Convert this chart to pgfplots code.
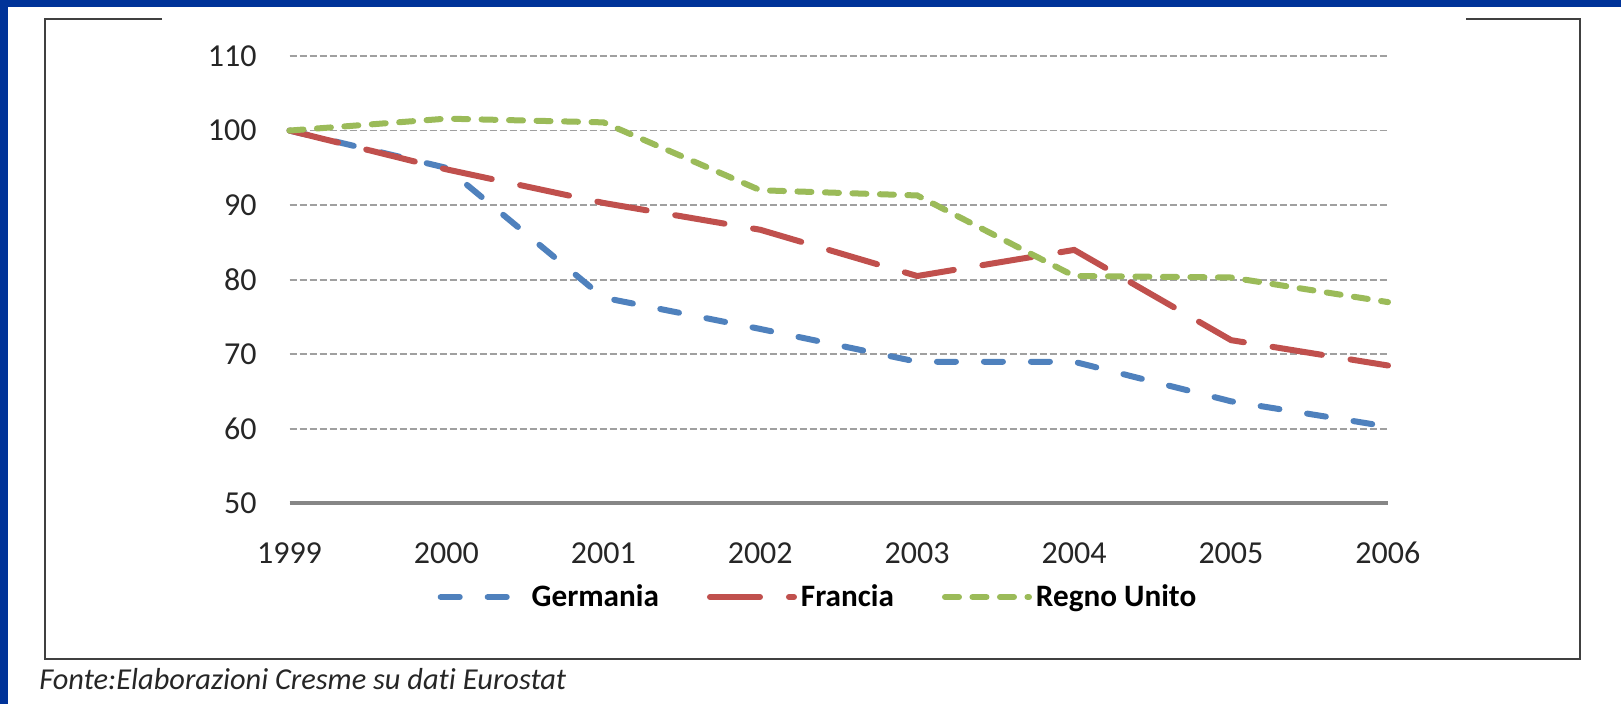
\documentclass[border=0pt]{standalone}
\usepackage{pgfplots}
\pgfplotsset{compat=1.18}
\usepackage{fontspec}
\setmainfont{Carlito}[Ligatures=NoCommon]
\definecolor{bgblue}{RGB}{0,51,153}
\definecolor{gblue}{RGB}{79,129,189}
\definecolor{gred}{RGB}{192,80,77}
\definecolor{ggreen}{RGB}{155,187,89}
\definecolor{gridgray}{RGB}{160,160,160}
\definecolor{axgray}{RGB}{134,134,134}
\definecolor{framegray}{RGB}{64,64,64}
\begin{document}
\begin{tikzpicture}[x=1pt,y=1pt]
\fill[bgblue] (0,0) rectangle (810.5,352);
\fill[white] (4,0) rectangle (810.5,348.5);
\draw[framegray, line width=1.1pt] (81,342.5) -- (22.5,342.5) -- (22.5,22.5) -- (790,22.5) -- (790,342.5) -- (733,342.5);
\node[anchor=west, inner sep=0pt, font=\fontsize{15.2}{17}\selectfont\itshape, text=black!85] at (19.5,12.5) {Fonte:Elaborazioni Cresme su dati Eurostat};
\begin{axis}[
  at={(144.75pt,100.25pt)}, anchor=south west,
  scale only axis, width=549.25pt, height=223.75pt,
  xmin=1999, xmax=2006, ymin=50, ymax=110,
  xtick={1999,...,2006}, ytick={50,60,...,110},
  axis x line*=bottom, axis y line*=left,
  x axis line style={draw=axgray, line width=2pt, -},
  y axis line style={draw=none},
  major tick length=0pt,
  ymajorgrids, major grid style={gridgray, line width=0.9pt, dash pattern=on 3.5pt off 1.5pt},
  /pgf/number format/assume math mode=true,
  /pgf/number format/1000 sep={},
  ticklabel style={font=\fontsize{16}{18}\selectfont, text=black!85, inner sep=0pt},
  xticklabel style={anchor=center, yshift=-24.75pt},
  yticklabel style={anchor=east, xshift=-16.25pt},
  clip=false,
  legend style={at={(0.482,-0.209)}, anchor=center, draw=none, fill=none,
    font=\bfseries\fontsize{15.6}{18}\selectfont, legend columns=-1,
    /tikz/every even column/.append style={column sep=22pt}},
  legend image code/.code={\draw[#1] (0pt,0pt) -- (42pt,0pt);},
]
\addplot[gblue, line width=3pt, line cap=round, dash pattern=on 9.5pt off 14pt] coordinates {(1999,100)(2000,95.0)(2001,77.6)(2002,73.4)(2003,69.0)(2004,69.0)(2005,63.7)(2006,60.3)};
\addlegendentry{Germania}
\addplot[gred, line width=3pt, line cap=round, dash pattern=on 25pt off 14.5pt] coordinates {(1999,100)(2000,94.8)(2001,90.3)(2002,86.7)(2003,80.5)(2004,84.0)(2005,71.9)(2006,68.5)};
\addlegendentry{Francia}
\addplot[ggreen, line width=3pt, line cap=round, dash pattern=on 7pt off 6.75pt] coordinates {(1999,100)(2000,101.6)(2001,101.1)(2002,92.0)(2003,91.3)(2004,80.5)(2005,80.3)(2006,77.0)};
\addlegendentry{Regno Unito}
\end{axis}
\end{tikzpicture}
\end{document}
